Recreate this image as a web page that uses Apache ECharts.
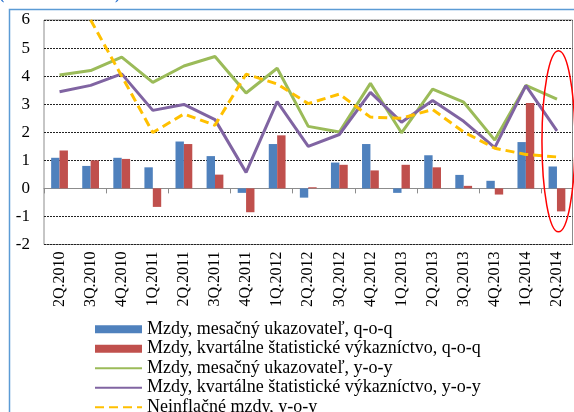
<!DOCTYPE html>
<html>
<head>
<meta charset="utf-8">
<script src="https://cdn.jsdelivr.net/npm/echarts@6/dist/echarts.min.js"></script>
<style>
  html, body { margin: 0; padding: 0; background: #fff; }
  #chart { width: 574px; height: 412px; }
</style>
</head>
<body>
<div id="chart"></div>
<script>
// kvartály
var categories = ['2Q.2010', '3Q.2010', '4Q.2010', '1Q.2011', '2Q.2011', '3Q.2011', '4Q.2011',
  '1Q.2012', '2Q.2012', '3Q.2012', '4Q.2012', '1Q.2013', '2Q.2013', '3Q.2013', '4Q.2013',
  '1Q.2014', '2Q.2014'];

// stĺpce (q-o-q)
var monthlyQoq = [1.09, 0.8, 1.09, 0.75, 1.67, 1.15, -0.16, 1.58, -0.33, 0.92, 1.58, -0.16, 1.18, 0.48, 0.27, 1.65, 0.78];
var quarterlyQoq = [1.35, 1.0, 1.05, -0.66, 1.58, 0.49, -0.85, 1.89, 0.04, 0.84, 0.64, 0.84, 0.75, 0.09, -0.22, 3.04, -0.82];

// čiary (y-o-y)
var monthlyYoy = [4.04, 4.2, 4.68, 3.78, 4.36, 4.7, 3.4, 4.28, 2.21, 2.01, 3.74, 1.98, 3.54, 3.07, 1.72, 3.67, 3.18];
var quarterlyYoy = [3.44, 3.67, 4.08, 2.78, 2.99, 2.45, 0.57, 3.09, 1.5, 1.92, 3.42, 2.36, 3.13, 2.39, 1.45, 3.66, 2.05];
var realYoy = [null, 6.0, 4.0, 1.99, 2.65, 2.25, 4.07, 3.72, 3.02, 3.36, 2.54, 2.5, 2.81, 2.01, 1.43, 1.21, 1.12];

var yTicks = [-2, -1, 0, 1, 2, 3, 4, 5, 6];

var seriesNames = [
  'Mzdy, mesačný ukazovateľ, q-o-q',
  'Mzdy, kvartálne štatistické výkazníctvo, q-o-q',
  'Mzdy, mesačný ukazovateľ, y-o-y',
  'Mzdy, kvartálne štatistické výkazníctvo, y-o-y',
  'Neinflačné mzdy, y-o-y'
];

var serif = '"Liberation Serif", "DejaVu Serif", serif';

var myChart = echarts.init(document.getElementById('chart'), null, { renderer: 'canvas' });

var option = {
  backgroundColor: '#fff',
  animation: false,
  grid: {
    left: 44, right: 1.5, top: 20, bottom: 167.5,
    show: true, borderColor: '#8c8c8c', borderWidth: 1, backgroundColor: 'transparent'
  },
  legend: {
    orient: 'vertical',
    left: 94, top: 319.5, height: 140, width: 470,
    padding: 0,
    itemWidth: 47, itemHeight: 8, itemGap: 0,
    textStyle: { fontFamily: serif, fontSize: 18, color: '#000', lineHeight: 19.5 },
    data: [
      { name: seriesNames[0], icon: 'rect' },
      { name: seriesNames[1], icon: 'rect' },
      { name: seriesNames[2], itemStyle: { opacity: 0 } },
      { name: seriesNames[3], itemStyle: { opacity: 0 } },
      { name: seriesNames[4], itemStyle: { opacity: 0 } }
    ]
  },
  xAxis: [
    {
      // os na nule s čiarkami
      type: 'category',
      data: categories,
      axisLine: { onZero: true, lineStyle: { color: '#8c8c8c', width: 1 } },
      axisTick: { show: true, length: 5, lineStyle: { color: '#8c8c8c' } },
      axisLabel: { show: false },
      splitLine: { show: false }
    },
    {
      // popisky dole
      type: 'category',
      data: categories,
      position: 'bottom',
      axisLine: { show: false, onZero: false },
      axisTick: { show: false },
      axisLabel: { rotate: 90, margin: 7, fontFamily: serif, fontSize: 16, color: '#000' },
      splitLine: { show: false }
    }
  ],
  yAxis: {
    type: 'value',
    min: yTicks[0], max: yTicks[yTicks.length - 1], interval: 1,
    axisLine: { show: false },
    axisTick: { show: false },
    axisLabel: { margin: 14, fontFamily: serif, fontSize: 17, color: '#000' },
    splitLine: { show: true, lineStyle: { color: '#222', type: [2, 1], width: 1 } }
  },
  series: [
    {
      name: seriesNames[0], type: 'bar', data: monthlyQoq,
      barGap: '0%', barCategoryGap: '46%',
      itemStyle: { color: '#4F81BD' }
    },
    {
      name: seriesNames[1], type: 'bar', data: quarterlyQoq,
      barGap: '0%', barCategoryGap: '46%',
      itemStyle: { color: '#C0504D' }
    },
    {
      name: seriesNames[2], type: 'line', data: monthlyYoy,
      symbol: 'none', z: 3,
      lineStyle: { color: '#9BBB59', width: 3 }, itemStyle: { color: '#9BBB59' }
    },
    {
      name: seriesNames[3], type: 'line', data: quarterlyYoy,
      symbol: 'none', z: 4,
      lineStyle: { color: '#8064A2', width: 3 }, itemStyle: { color: '#8064A2' }
    },
    {
      name: seriesNames[4], type: 'line', data: realYoy,
      symbol: 'none', z: 5, connectNulls: false,
      lineStyle: { color: '#FFC000', width: 3, type: [9, 5] }, itemStyle: { color: '#FFC000' }
    }
  ]
};

myChart.setOption(option);

// rámček, nadpis a červená elipsa okolo posledného kvartálu
var lastX = myChart.convertToPixel({ xAxisIndex: 0 }, categories[categories.length - 1]);
var yTop = myChart.convertToPixel({ yAxisIndex: 0 }, 4.9);
var yBot = myChart.convertToPixel({ yAxisIndex: 0 }, -1.55);
myChart.setOption({
  graphic: [
    {
      type: 'rect', silent: true,
      shape: { x: 9.5, y: 9.5, width: 600, height: 500 },
      style: { fill: 'none', stroke: '#5B9BD5', lineWidth: 1.5 }
    },
    {
      type: 'text', silent: true, left: -1, top: -13,
      style: { text: '(medziročne v %)', fill: '#2E75D0', font: 'bold 16px ' + serif }
    },
    {
      type: 'ellipse', silent: true,
      shape: { cx: lastX + 1.5, cy: (yTop + yBot) / 2, rx: 16.5, ry: (yBot - yTop) / 2 },
      style: { fill: 'none', stroke: '#FF0000', lineWidth: 1.5 },
      z: 100
    }
  ]
});
</script>
</body>
</html>
